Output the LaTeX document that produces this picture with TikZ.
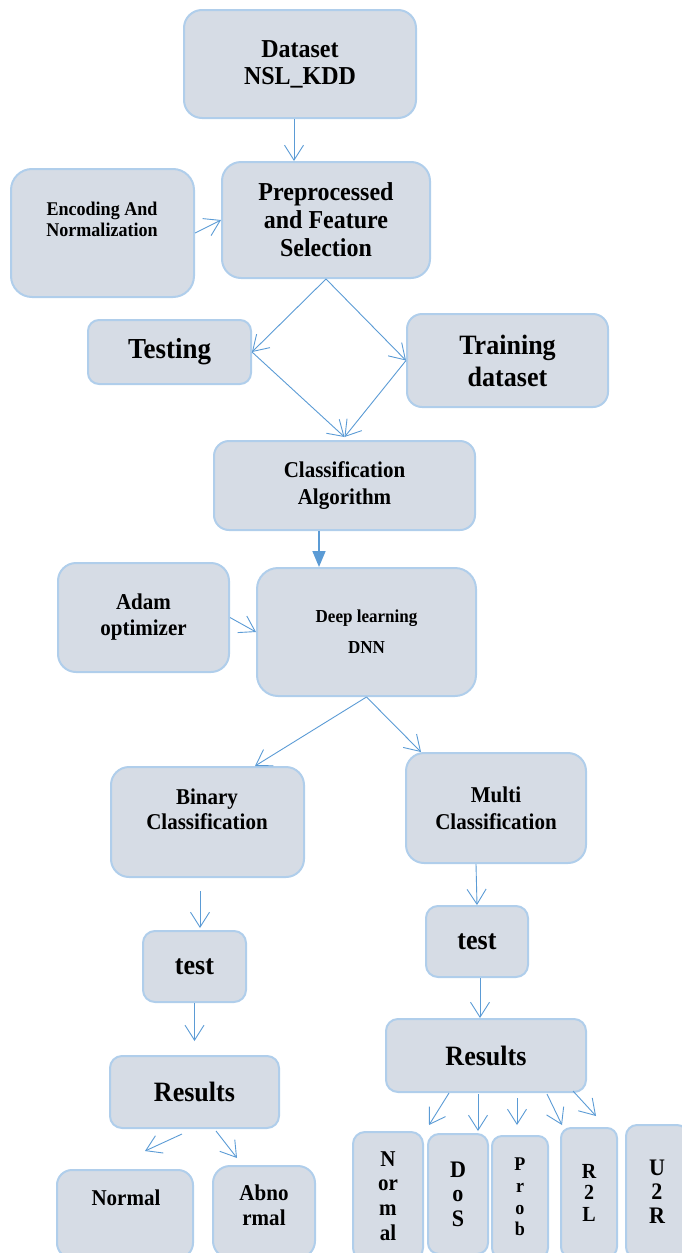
\documentclass[tikz,border=0pt]{standalone}
\usepackage{fontspec}
\setmainfont{Liberation Serif}[FakeStretch=0.93]
\usetikzlibrary{arrows.meta}

\definecolor{boxfill}{RGB}{214,220,229}
\definecolor{boxline}{RGB}{176,206,235}
\definecolor{arrowblue}{RGB}{91,155,213}

\tikzset{
    box/.style={draw=boxline,fill=boxfill,line width=2pt,rounded corners=#1,inner sep=0pt,align=center},
    box/.default=15pt,
    fs/.style 2 args={font=\bfseries\fontsize{#1}{#2}\selectfont},
    arr/.style={draw=arrowblue,line width=0.9pt,-{Straight Barb[length=15pt,width=19pt]}},
    thickarr/.style={draw=arrowblue,line width=1.6pt,-{Triangle[length=16pt,width=13pt]}}
}

\begin{document}
\begin{tikzpicture}[x=1pt,y=-1pt]
        \useasboundingbox(0,0)rectangle(681,1253);

        \node[box=18pt,minimum width=232,minimum height=108,fs={25.8}{27}](dataset)at(300,64){Dataset\\NSL\_KDD};
        \node[box=19pt,minimum width=208,minimum height=116,fs={25.8}{28}](preproc)at(326,220){Preprocessed\\and Feature\\Selection};
        \node[box=21pt,minimum width=183,minimum height=128](encoding)at(102.5,233){};
        \node[fs={19.4}{21},align=center](enctext)at(102,219.5){Encoding And\\Normalization};
        \node[box=11pt,minimum width=163,minimum height=64,fs={29}{30}](testing)at(169.5,352){Testing};
        \node[box=15pt,minimum width=201,minimum height=93,fs={28}{32}](training)at(507.5,360.5){Training\\dataset};

        \draw[arr]([xshift=-6pt]dataset.south)--([xshift=-32pt]preproc.north);
        \draw[arr](encoding.east)--(preproc.west);
        \draw[arr](preproc.south)--(testing.east);
        \draw[arr](preproc.south)--(training.west);

        \node[box=15pt,minimum width=261,minimum height=89,fs={22.6}{27}](classif)at(344.5,485.5){Classification\\Algorithm};
        \node[box=18pt,minimum width=171,minimum height=109,fs={22.6}{26}](adam)at(143.5,617.5){Adam\\optimizer};
        \node[box=21pt,minimum width=219,minimum height=128,fs={18.3}{31}](dnn)at(366.5,632){Deep learning\\DNN};

        \draw[arr](testing.east)--([yshift=3pt]classif.north);
        \draw[arr](training.west)--([yshift=3pt]classif.north);
        \draw[thickarr]([xshift=-25.5pt]classif.south)--([xshift=-47.5pt]dnn.north);
        \draw[arr](adam.east)--(dnn.west);

        \node[box=18pt,minimum width=193,minimum height=110](binary)at(207.5,822){};
        \node[fs={22.6}{25},align=center](bintext)at(207,809.5){Binary\\Classification};
        \node[box=18pt,minimum width=180,minimum height=110,fs={22.6}{27}](multi)at(496,808){Multi\\Classification};

        \draw[arr](dnn.south)--([xshift=47.5pt]binary.north);
        \draw[arr](dnn.south)--([xshift=-75pt]multi.north);

        \node[box=12pt,minimum width=103,minimum height=71,fs={28}{30}](testl)at(194.5,966.5){test};
        \node[box=12pt,minimum width=102,minimum height=71,fs={28}{30}](testr)at(477,941.5){test};
        \node[box=12pt,minimum width=169,minimum height=72,fs={28}{30}](resl)at(194.5,1092){Results};
        \node[box=12pt,minimum width=200,minimum height=73,fs={28}{30}](resr)at(486,1055.5){Results};

        \draw[arr]([xshift=-7.5pt,yshift=-13pt]binary.south)--([xshift=5.5pt,yshift=2pt]testl.north);
        \draw[arr](testl.south)--([yshift=14pt]resl.north);
        \draw[arr]([xshift=-20pt]multi.south)--(testr.north);
        \draw[arr]([xshift=3pt]testr.south)--([xshift=-6pt]resr.north);

        \node[box=15pt,minimum width=136,minimum height=88](norml)at(125,1214){};
        \node[fs={22.6}{25}](normtext)at(126,1198){Normal};
        \node[box=17pt,minimum width=102,minimum height=92](abnorm)at(264,1212){};
        \node[fs={22.6}{25},align=center](abntext)at(264,1205.5){Abno\\rmal};

        \draw[arr]([xshift=-12.5pt,yshift=-5pt]resl.south)--([xshift=20pt,yshift=18pt]norml.north);
        \draw[arr]([xshift=21.5pt,yshift=-2pt]resl.south)--([xshift=-27pt,yshift=7pt]abnorm.north);

        \node[box=12pt,minimum width=70,minimum height=128,fs={22.6}{24.7}](nrm)at(388,1196){N\\or\\m\\al};
        \node[box=11pt,minimum width=60,minimum height=120,fs={23.7}{24.5}](dos)at(458,1194){D\\o\\S};
        \node[box=10pt,minimum width=56,minimum height=122,fs={19.4}{21.7}](prob)at(520,1197){P\\r\\o\\b};
        \node[box=10pt,minimum width=56,minimum height=129,fs={21.5}{21.5}](rtl)at(589,1192.5){R\\2\\L};
        \node[box=11pt,minimum width=62,minimum height=133,fs={23.7}{24}](utr)at(657,1191.5){U\\2\\R};

        \draw[arr]([xshift=-37pt]resr.south)--([xshift=41pt,yshift=6pt]nrm.north);
        \draw[arr]([xshift=-8pt,yshift=-1pt]resr.south)--([xshift=20pt,yshift=2pt]dos.north);
        \draw[arr]([xshift=31pt,yshift=-5pt]resr.south)--([xshift=-3pt,yshift=10pt]prob.north);
        \draw[arr]([xshift=61pt,yshift=-1pt]resr.south)--([xshift=-27pt,yshift=2pt]rtl.north);
        \draw[arr]([xshift=87pt,yshift=2pt]resr.south)--([xshift=7pt,yshift=11pt]rtl.north);
    \end{tikzpicture}
\end{document}
